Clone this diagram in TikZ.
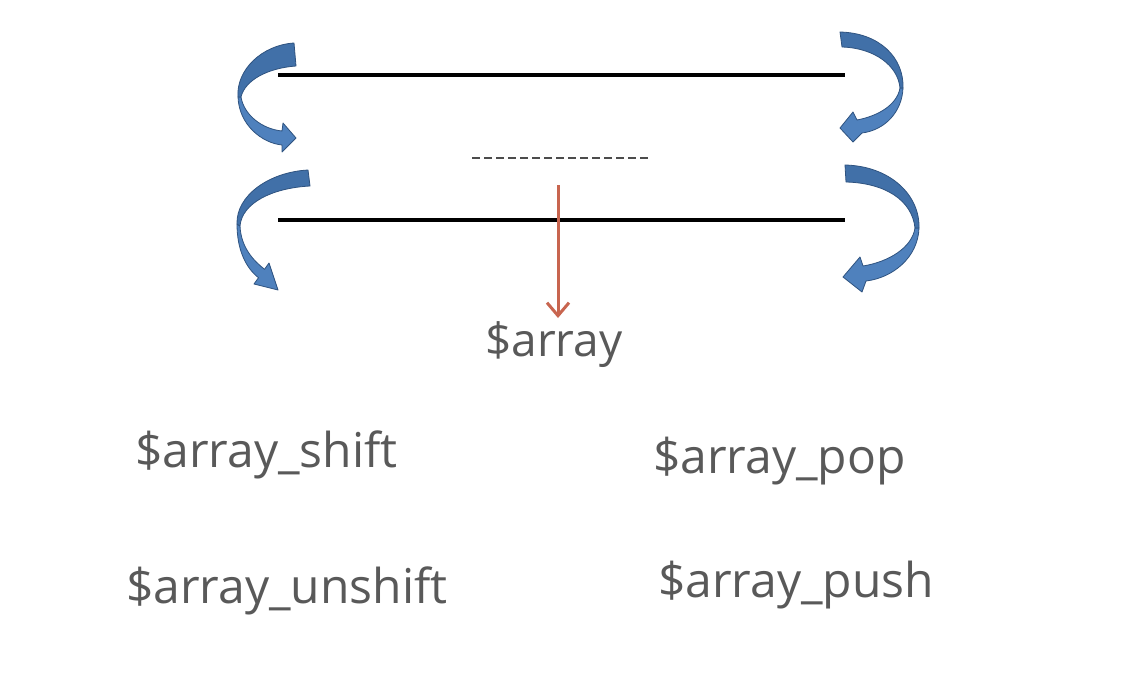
\documentclass[tikz,border=0pt]{standalone}
\usepackage{fontspec}
\setmainfont{Open Sans}
\usetikzlibrary{arrows.meta}
\definecolor{txtgray}{HTML}{595959}
\definecolor{bluefill}{HTML}{4F81BD}
\definecolor{bluedark}{HTML}{4170A8}
\definecolor{blueedge}{HTML}{2F5380}
\definecolor{redarrow}{HTML}{C8654F}
\tikzset{
  lbl/.style={inner sep=0pt, anchor=base west, text=txtgray, font=\fontsize{48}{56}\selectfont},
  barline/.style={line width=3.5pt, black},
  bandup/.style={fill=bluedark, draw=blueedge, line width=0.8pt, line join=round},
  bandlow/.style={fill=bluefill, draw=blueedge, line width=0.8pt, line join=round},
}
\begin{document}
\begin{tikzpicture}[x=1pt,y=-1pt]
\useasboundingbox[fill=white] (0,0) rectangle (1130,680);

% horizontal lines
\coordinate (l1a) at (278,75); \coordinate (l1b) at (845,75);
\coordinate (l2a) at (278,220); \coordinate (l2b) at (845,220);
\draw[barline] (l1a) -- (l1b);
\draw[barline] (l2a) -- (l2b);

% dashed line
\coordinate (da) at (472,158); \coordinate (db) at (650,158);
\draw[line width=1.6pt, color=black!70, dash pattern=on 8pt off 4pt] (da) -- (db);

% top-left curved arrow
\path[bandlow] (238,97) .. controls (239,125) and (262,143) .. (282,145) -- (282,152) -- (296,138) -- (283,123) -- (282,131)
  .. controls (262,129) and (244,115) .. (241,97) -- cycle;
\path[bandup] (294,43) .. controls (262,45) and (236,70) .. (238,97) -- (241,97)
  .. controls (245,80) and (268,68) .. (296,66) -- cycle;

% bottom-left curved arrow
\path[bandlow] (237,224) .. controls (237,250) and (246,268) .. (258.5,277.7) -- (254,284) -- (278,290) -- (269,263) -- (264.5,269.3)
  .. controls (254,261) and (241,248) .. (240,226) -- cycle;
\path[bandup] (308,170) .. controls (270,172) and (236,195) .. (237,224) -- (240,226)
  .. controls (242,203) and (272,188) .. (310,186) -- cycle;

% top-right curved arrow
\path[bandlow] (903,88) .. controls (902,112) and (885,130) .. (862,133) -- (853,142) -- (840,128) -- (853,112) -- (857,120)
  .. controls (878,116) and (897,105) .. (900,88) -- cycle;
\path[bandup] (840,32) .. controls (880,33) and (904,58) .. (903,88) -- (900,88)
  .. controls (898,66) and (875,48) .. (842,47) -- cycle;

% bottom-right curved arrow
\path[bandlow] (919,228) .. controls (918,258) and (892,278) .. (866,281) -- (862,292) -- (843,277) -- (860,257) -- (863,266)
  .. controls (888,262) and (912,248) .. (915,228) -- cycle;
\path[bandup] (845,165) .. controls (890,166) and (920,195) .. (919,228) -- (915,228)
  .. controls (912,200) and (885,183) .. (846,182) -- cycle;

% labels
\node[lbl, font=\fontsize{46}{54}\selectfont] (arr) at (485,356) {\$array};
\node[lbl] (shift) at (135,467) {\$array\_shift};
\node[lbl] (unshift) at (126,603) {\$array\_unshift};
\node[lbl] (pop) at (653,473) {\$array\_pop};
\node[lbl] (push) at (658,597) {\$array\_push};

% red arrow
\coordinate (rstart) at (558,185);
\coordinate (rend) at (558,318);
\draw[redarrow, line width=3pt, -{Straight Barb[length=13pt,width=22pt,line width=3pt]}] (rstart) -- (rend);
\end{tikzpicture}
\end{document}
